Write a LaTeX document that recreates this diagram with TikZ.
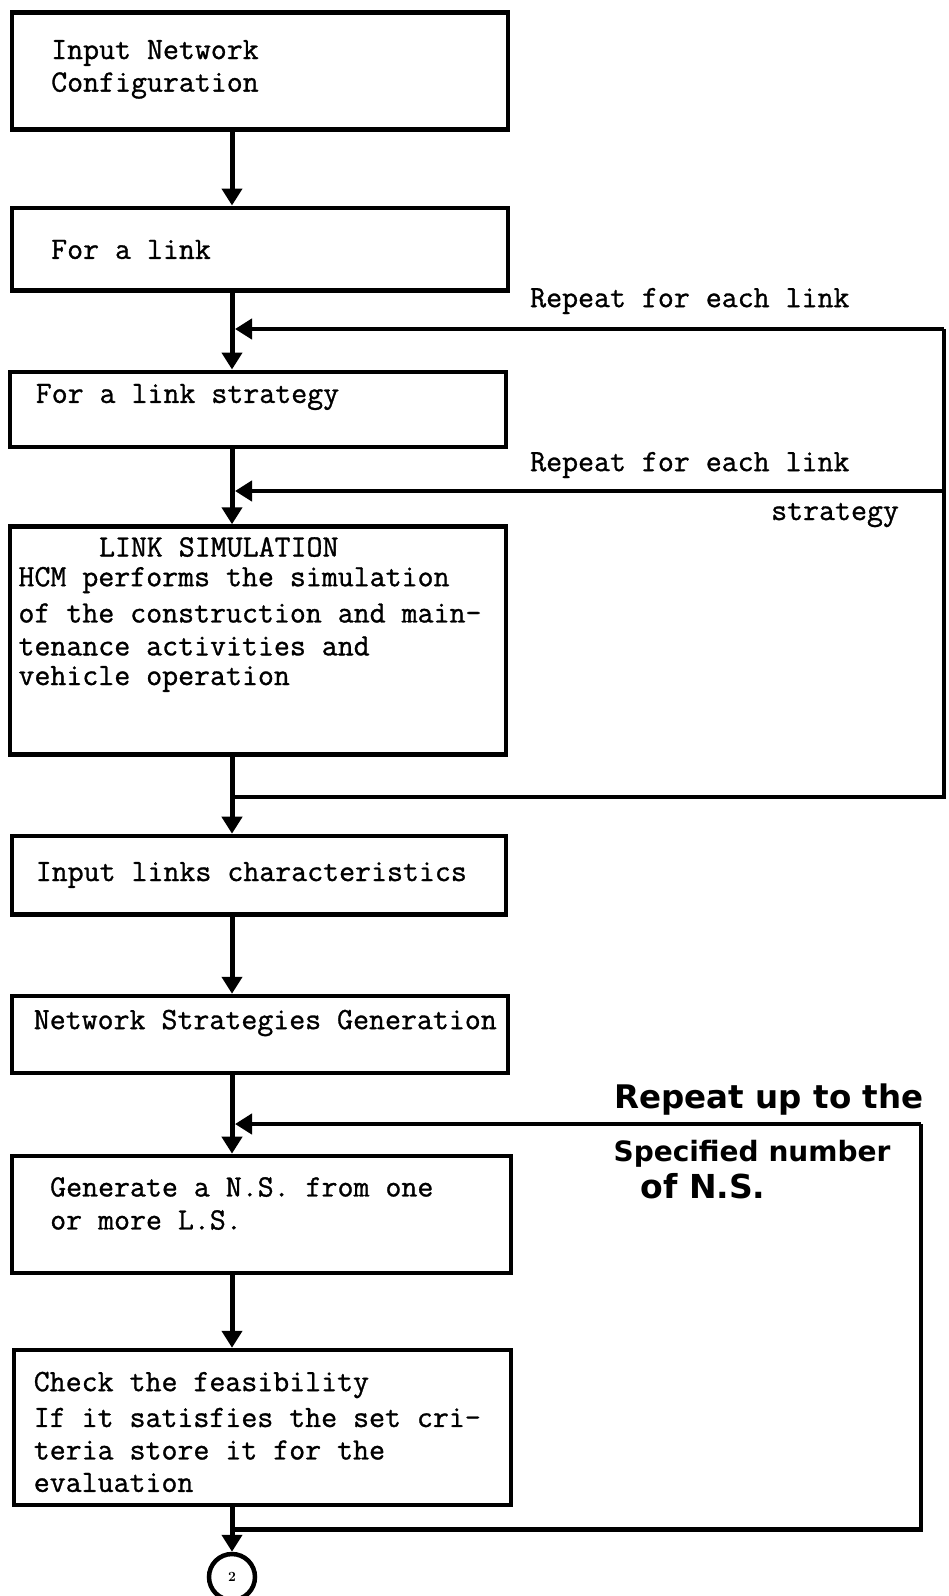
\documentclass[tikz,border=0pt]{standalone}
\usepackage{fontspec}
\newfontfamily\typer{Latin Modern Mono}[FakeBold=1.0]
\newfontfamily\handfont{DejaVu Sans}
\usetikzlibrary{arrows.meta}
\begin{document}
\begin{tikzpicture}[x=1pt,y=-1pt,
  box/.style={draw,line width=4.5pt,rectangle,inner sep=0pt},
  txt/.style={anchor=west,inner sep=0pt,font=\fontsize{31}{32.6}\selectfont\typer},
  note/.style={anchor=west,inner sep=0pt,font=\fontsize{31}{32.6}\selectfont\typer},
  hand/.style={inner sep=0pt,font=\handfont\bfseries},
  flow/.style={line width=5pt,-{Triangle[width=20pt,length=17pt]}},
  back/.style={line width=4.5pt,-{Triangle[width=20pt,length=17pt]}},
  plain/.style={line width=4.5pt}]
\useasboundingbox (0,0) rectangle (948,1596);

% boxes
\node[box,minimum width=496pt,minimum height=117pt] (b1) at (260,70.8) {};
\node[box,minimum width=496pt,minimum height=82.5pt] (b2) at (260,249) {};
\node[box,minimum width=496pt,minimum height=75.3pt] (b3) at (258,409.4) {};
\node[box,minimum width=496pt,minimum height=228pt] (b4) at (258,640.5) {};
\node[box,minimum width=494pt,minimum height=78.5pt] (b5) at (259,875.2) {};
\node[box,minimum width=496pt,minimum height=77pt] (b6) at (260,1034.5) {};
\node[box,minimum width=499pt,minimum height=117pt] (b7) at (261.6,1214.4) {};
\node[box,minimum width=497pt,minimum height=155pt] (b8) at (262.6,1427.5) {};
\node[draw,circle,line width=4.5pt,minimum size=46pt,inner sep=0pt,font=\fontsize{14}{14}\selectfont\bfseries] (end) at (232,1577) {2};

% box texts
\node[txt] (t1a) at (51,53) {Input Network};
\node[txt] (t1b) at (51,85.5) {Configuration};
\node[txt] (t2) at (51,249.5) {For a link};
\node[txt] (t3) at (35.6,397) {For a link strategy};
\node[txt] (t4a) at (98.8,547) {LINK SIMULATION};
\node[txt] (t4b) at (18.3,580) {HCM performs the simulation};
\node[txt] (t4c) at (18.3,613) {of the construction and main-};
\node[txt] (t4d) at (18.3,646) {tenance activities and};
\node[txt] (t4e) at (18.3,679) {vehicle operation};
\node[txt] (t5) at (35.6,875) {Input links characteristics};
\node[txt] (t6) at (33.6,1023) {Network Strategies Generation};
\node[txt] (t7a) at (50,1187) {Generate a N.S. from one};
\node[txt] (t7b) at (50,1220) {or more L.S.};
\node[txt] (t8a) at (33.6,1385) {Check the feasibility};
\node[txt] (t8b) at (33.6,1417.5) {If it satisfies the set cri-};
\node[txt] (t8c) at (33.6,1450) {teria store it for the};
\node[txt] (t8d) at (33.6,1482.5) {evaluation};

% loop labels
\node[note] (r1) at (530,301) {Repeat for each link};
\node[note] (r2) at (530,465) {Repeat for each link};
\node[note] (r2b) at (771,515) {strategy};
\node[hand,font=\fontsize{32.5}{36}\selectfont\handfont\bfseries] (h1) at (769,1100) {Repeat up to the};
\node[hand,font=\fontsize{28}{32}\selectfont\handfont\bfseries] (h2) at (752,1154) {Specified number};
\node[hand,font=\fontsize{33}{36}\selectfont\handfont\bfseries] (h3) at (703,1186) {of N.S.};

% main flow line
\coordinate (m) at (232,0);
\draw[flow] (b1.south -| m) -- (b2.north -| m);
\draw[flow] (b2.south -| m) -- (b3.north -| m);
\draw[flow] (b3.south -| m) -- (b4.north -| m);
\draw[flow] (b4.south -| m) -- (b5.north -| m);
\draw[flow] (b5.south -| m) -- (b6.north -| m);
\draw[flow] (b6.south -| m) -- (b7.north -| m);
\draw[flow] (b7.south -| m) -- (b8.north -| m);
\draw[flow] (b8.south -| m) -- (end.north);

% loop junctions
\coordinate (j1) at (235,329);
\coordinate (j2) at (235,491);
\coordinate (j3) at (235,1124);
\coordinate (k1) at (232,797);
\coordinate (k3) at (232,1529.5);
\coordinate (c1) at (944,329);
\coordinate (c2) at (944,491);
\coordinate (c3) at (944,797);
\coordinate (c4) at (921,1124);
\coordinate (c5) at (921,1529.5);

% repeat for each link / link strategy
\draw[plain] (k1) -- (c3) -- (c1);
\draw[back] (c1) -- (j1);
\draw[back] (c2) -- (j2);

% repeat up to the specified number of N.S.
\draw[plain] (k3) -- (c5) -- (c4);
\draw[back] (c4) -- (j3);
\end{tikzpicture}
\end{document}
